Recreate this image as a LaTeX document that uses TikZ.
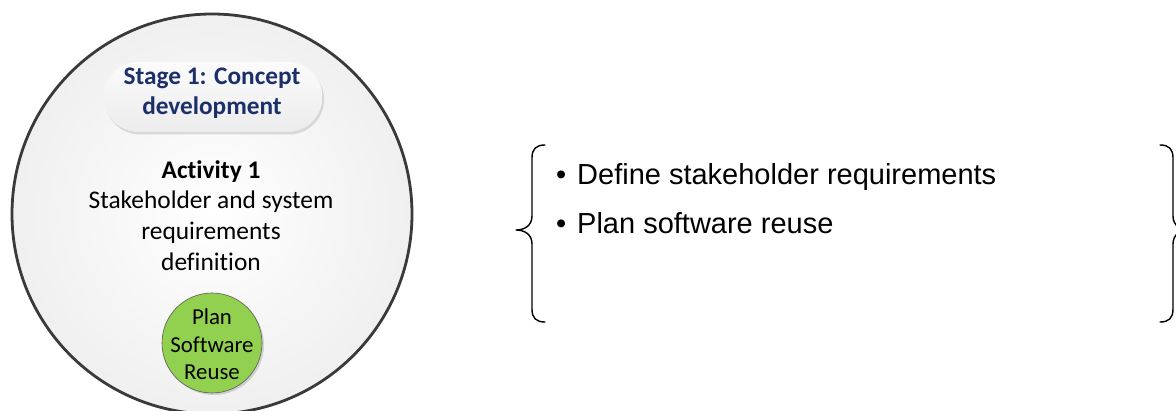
\documentclass[tikz,border=0pt]{standalone}
\usepackage{fontspec}
\setmainfont{Carlito}[Ligatures=NoCommon]
\newfontfamily\arialfont{Liberation Sans}
\usetikzlibrary{shadows,shapes.misc}
\definecolor{navy}{HTML}{1B2F6B}
\definecolor{leaf}{HTML}{92D050}
\definecolor{ring}{HTML}{3A3A3A}
\begin{document}
\begin{tikzpicture}[x=1pt,y=-1pt,
  bigcirc/.style={circle,draw=ring,line width=2.8pt,minimum size=400pt,inner sep=0pt,
    shade,inner color=white,outer color=gray!12},
  stagebox/.style={rounded rectangle,minimum width=219pt,minimum height=70pt,inner sep=0pt,
    shade,top color=gray!3,bottom color=gray!15,
    drop shadow={shadow xshift=1.5pt,shadow yshift=-2.5pt,opacity=0.25,fill=gray}},
  stagetext/.style={font=\fontsize{25.3}{30}\selectfont\bfseries,text=navy,align=center,inner sep=0pt},
  acttext/.style={font=\fontsize{25.4}{30.7}\selectfont,align=center,text=black,inner sep=0pt},
  greencirc/.style={circle,draw=gray!70!black,line width=0.6pt,fill=leaf,minimum size=100pt,inner sep=0pt,
    drop shadow={shadow xshift=2pt,shadow yshift=-2pt,opacity=0.3,fill=gray}},
  greentext/.style={font=\fontsize{22.8}{27.5}\selectfont,align=center,inner sep=0pt},
  bullet/.style={anchor=base west,font=\arialfont\fontsize{29}{33}\selectfont,inner sep=0pt},
  brace/.style={line width=1.4pt,line cap=round,line join=round}
]
\useasboundingbox (0,0) rectangle (1176,411);
\node[bigcirc] (outer) at (212,214) {};
\node[stagebox] (stage) at (213,97) {};
\node[stagetext] (stagelbl) at (212,93.5) {Stage 1: Concept\\development};
\node[acttext] (act) at (211,215.5) {\textbf{Activity 1}\\Stakeholder and system\\requirements\\definition};
\node[greencirc] (reuse) at (212,343) {};
\node[greentext] (reuselbl) at (212,344.5) {Plan\\Software\\Reuse};
\node[bullet] (dot1) at (556,185) {\textbullet};
\node[bullet] (b1) at (577,185) {Define stakeholder requirements};
\node[bullet] (dot2) at (556,234) {\textbullet};
\node[bullet] (b2) at (577,234) {Plan software reuse};
\draw[brace] (545,145) .. controls (536,145) and (532,149) .. (532,158)
  -- (532,216) .. controls (532,226) and (524,230) .. (516,230)
  .. controls (524,230) and (532,234) .. (532,244)
  -- (532,309) .. controls (532,318) and (536,322) .. (545,322);
\draw[brace] (1160,145) .. controls (1169,145) and (1173,149) .. (1173,158)
  -- (1173,216) .. controls (1173,226) and (1181,230) .. (1189,230)
  .. controls (1181,230) and (1173,234) .. (1173,244)
  -- (1173,309) .. controls (1173,318) and (1169,322) .. (1160,322);
\end{tikzpicture}
\end{document}
